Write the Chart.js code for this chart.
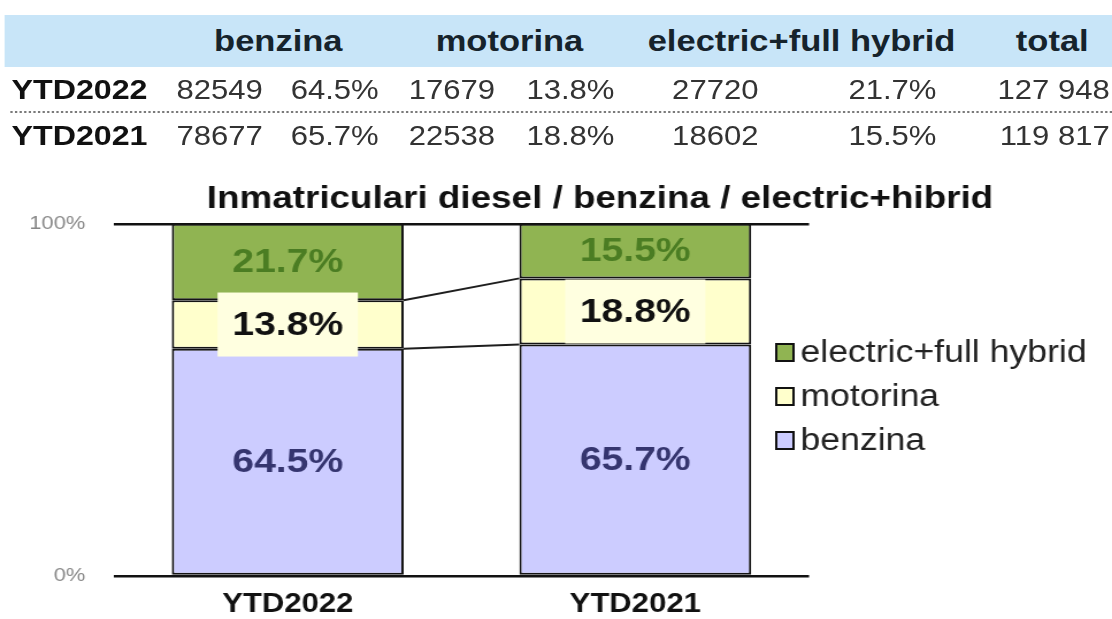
<!DOCTYPE html>
<html lang="ro">
<head>
<meta charset="UTF-8">
<title>Inmatriculari diesel / benzina / electric+hibrid</title>
<script src="https://cdn.jsdelivr.net/npm/chart.js"></script>
<style>
  body { margin: 0; background: #fff; overflow: hidden; font-family: 'Liberation Sans', Arial, sans-serif; }
  /* the source picture is stretched sideways, so the whole page is too */
  #stage { position: absolute; left: 0; top: 0; width: 967px; height: 619px; transform: scaleX(1.15); transform-origin: 0 0; }
  #band { position: absolute; left: 4px; top: 15px; width: 963px; height: 52px; background: #c8e5f8; }
  #sep { position: absolute; left: 9px; top: 111px; width: 958px; border-top: 2px dotted #7a7a7a; }
  .cell { position: absolute; white-space: nowrap; line-height: 1; }
  .hdr { font-weight: bold; font-size: 30px; color: #16232c; transform: translate(-50%, -50%); }
  .val { font-size: 27px; color: #333; transform: translate(-50%, -50%); }
  .val.right { transform: translate(-100%, -50%); }
  .rowlbl { font-weight: bold; font-size: 28px; color: #111; transform: translateY(-50%); }
  #chartBox { position: absolute; left: 0; top: 160px; }
</style>
</head>
<body>
<div id="stage">
  <div id="band"></div>
  <div id="sep"></div>
  <div id="table"></div>
  <div id="chartBox"><canvas id="chart" width="967" height="459"></canvas></div>
</div>

<script>
const categories = ['YTD2022', 'YTD2021'];
const seriesNames = ['benzina', 'motorina', 'electric+full hybrid'];
const tableHeaders = ['benzina', 'motorina', 'electric+full hybrid', 'total'];

// share of registrations, %
const benzinaPct = [64.5, 65.7];
const motorinaPct = [13.8, 18.8];
const electricPct = [21.7, 15.5];

// registrations, units
const benzinaCnt = [82549, 78677];
const motorinaCnt = [17679, 22538];
const electricCnt = [27720, 18602];
const totalCnt = [127948, 119817];

const yTickStep = 100;

// ---- table on top ----
const table = document.getElementById('table');
function cell(text, cls, x, y) {
    const el = document.createElement('div');
    el.className = 'cell ' + cls;
    el.textContent = text;
    el.style.left = x + 'px';
    el.style.top = y + 'px';
    table.appendChild(el);
}
const headerX = [242, 443, 697, 915];
tableHeaders.forEach((h, i) => cell(h, 'hdr', headerX[i], 41));

const rowY = [90, 136];
const pct = v => v.toFixed(1) + '%';
const spaced = v => String(v).replace(/\B(?=(\d{3})+(?!\d))/g, ' ');
categories.forEach((c, r) => {
    const y = rowY[r];
    cell(c, 'rowlbl', 10, y);
    cell(benzinaCnt[r], 'val', 191, y);
    cell(pct(benzinaPct[r]), 'val', 291, y);
    cell(motorinaCnt[r], 'val', 393, y);
    cell(pct(motorinaPct[r]), 'val', 496, y);
    cell(electricCnt[r], 'val', 622, y);
    cell(pct(electricPct[r]), 'val', 776, y);
    cell(spaced(totalCnt[r]), 'val right', 965, y);
});

// ---- chart ----
const FONT = "'Liberation Sans', Arial, sans-serif";
Chart.defaults.font.family = FONT;

// data labels, series lines and the legend drawn over the bars
const overlay = {
    id: 'overlay',
    afterDatasetsDraw(chart) {
        const ctx = chart.ctx;
        ctx.save();
        ctx.strokeStyle = '#1e1e1e';
        ctx.lineWidth = 2;
        [0, 1].forEach(d => {
            const bars = chart.getDatasetMeta(d).data;
            for (let i = 0; i < bars.length - 1; i++) {
                const a = bars[i], b = bars[i + 1];
                ctx.beginPath();
                ctx.moveTo(a.x + a.width / 2, a.y);
                ctx.lineTo(b.x - b.width / 2, b.y);
                ctx.stroke();
            }
        });

        ctx.font = 'bold 34px ' + FONT;
        ctx.textAlign = 'center';
        ctx.textBaseline = 'middle';
        chart.data.datasets.forEach((ds, d) => {
            chart.getDatasetMeta(d).data.forEach((bar, i) => {
                const cy = (bar.y + bar.base) / 2;
                if (ds.labelBox) {
                    ctx.fillStyle = ds.labelBox;
                    ctx.fillRect(bar.x - 61, cy - 32, 122, 64);
                }
                ctx.fillStyle = ds.labelColor;
                ctx.fillText(pct(ds.data[i]), bar.x, cy + 1);
            });
        });
        ctx.restore();
    },
    afterDraw(chart) {
        const ctx = chart.ctx;
        ctx.save();
        ctx.font = '31px ' + FONT;
        ctx.textAlign = 'left';
        ctx.textBaseline = 'middle';
        const items = chart.data.datasets.slice().reverse();
        items.forEach((ds, k) => {
            const cy = 192 + k * 44;
            ctx.fillStyle = ds.backgroundColor;
            ctx.fillRect(675, cy - 8, 15, 17);
            ctx.strokeStyle = '#111';
            ctx.lineWidth = 2;
            ctx.strokeRect(675, cy - 8, 15, 17);
            ctx.fillStyle = '#222';
            ctx.fillText(ds.label, 696, cy + 1);
        });
        ctx.restore();
    }
};

const chart = new Chart(document.getElementById('chart'), {
    type: 'bar',
    data: {
        labels: categories,
        datasets: [
            { label: seriesNames[0], data: benzinaPct, backgroundColor: '#ccccff', labelColor: '#35356f' },
            { label: seriesNames[1], data: motorinaPct, backgroundColor: '#ffffcc', labelColor: '#111111', labelBox: '#ffffe0' },
            { label: seriesNames[2], data: electricPct, backgroundColor: '#90b452', labelColor: '#4b7d23' }
        ]
    },
    options: {
        responsive: false,
        animation: false,
        devicePixelRatio: 1,
        // negative right padding pushes the centred title to the right
        layout: { padding: { left: 0, right: -76.5, top: 0, bottom: 0 } },
        datasets: {
            bar: {
                categoryPercentage: 1,
                barPercentage: 0.667,
                borderColor: '#141414',
                borderWidth: 2,
                borderSkipped: false
            }
        },
        plugins: {
            legend: { display: false },
            tooltip: { enabled: false },
            title: {
                display: true,
                text: 'Inmatriculari diesel / benzina / electric+hibrid',
                color: '#111',
                font: { size: 32, weight: 'bold' },
                padding: { top: 20, bottom: 5.4 }
            }
        },
        scales: {
            x: {
                stacked: true,
                grid: { display: false },
                border: { display: false },
                ticks: { color: '#111', font: { size: 27, weight: 'bold' }, padding: 4 },
                afterFit(s) { s.height = 43; }
            },
            y: {
                stacked: true,
                min: 0,
                max: 100,
                grid: { color: '#111', lineWidth: 2.5, drawTicks: false },
                border: { display: false },
                ticks: { stepSize: yTickStep, padding: 25, color: '#888', font: { size: 19 }, callback: v => v + '%' },
                afterFit(s) { s.width = 99.1; }
            },
            // empty axis that keeps room for the legend on the right
            yRight: {
                position: 'right',
                grid: { display: false },
                border: { display: false },
                ticks: { display: false },
                afterFit(s) { s.width = 340; }
            }
        }
    },
    plugins: [overlay]
});
</script>
</body>
</html>
